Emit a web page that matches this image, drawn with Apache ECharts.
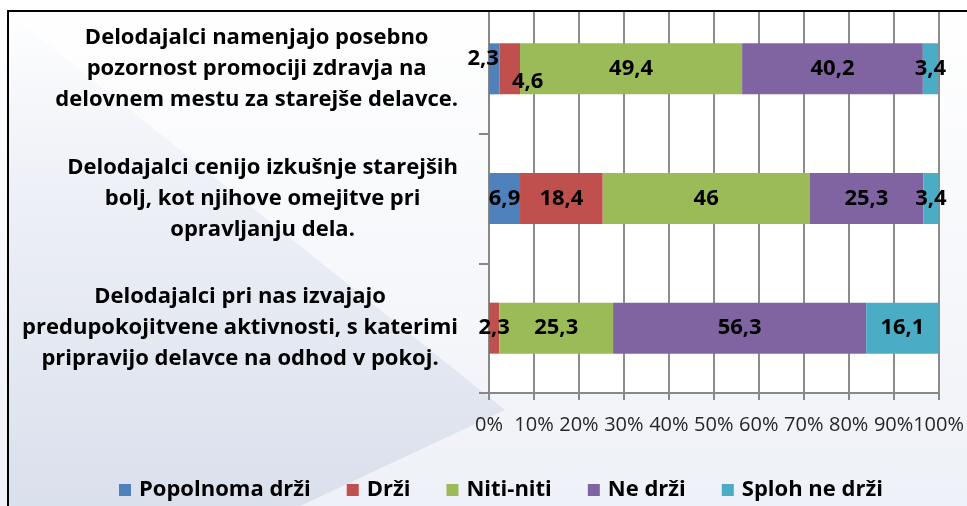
<!DOCTYPE html>
<html>
<head>
<meta charset="utf-8">
<script src="https://cdn.jsdelivr.net/npm/echarts@6/dist/echarts.min.js"></script>
<style>
  html, body { margin: 0; padding: 0; background: #ffffff; }
  #chart { width: 967px; height: 506px; }
</style>
</head>
<body>
<div id="chart"></div>
<script>
// ---- data ----
const categories = [
  'Delodajalci namenjajo posebno\npozornost promociji zdravja na\ndelovnem mestu za starejše delavce.',
  'Delodajalci cenijo izkušnje starejših\nbolj, kot njihove omejitve pri\nopravljanju dela.',
  'Delodajalci pri nas izvajajo\npredupokojitvene aktivnosti, s katerimi\npripravijo delavce na odhod v pokoj.'
];
const seriesNames = ['Popolnoma drži', 'Drži', 'Niti-niti', 'Ne drži', 'Sploh ne drži'];
const popolnomaDrzi = [2.3, 6.9, 0];
const drzi = [4.6, 18.4, 2.3];
const nitiNiti = [49.4, 46, 25.3];
const neDrzi = [40.2, 25.3, 56.3];
const splohNeDrzi = [3.4, 3.4, 16.1];
const xTicks = [0, 10, 20, 30, 40, 50, 60, 70, 80, 90, 100];

// ---- styling ----
const colors = ['#4f81bd', '#c0504d', '#9bbb59', '#8064a2', '#4bacc6'];
const FONT = '"Open Sans", "Noto Sans", sans-serif';
const allValues = [popolnomaDrzi, drzi, nitiNiti, neDrzi, splohNeDrzi];
// manual label nudges for the crowded small segments (series index, category index)
const labelNudges = { '0-0': [-11, -10], '1-0': [18, 13] };

const chart = echarts.init(document.getElementById('chart'), null, { renderer: 'canvas' });

const series = allValues.map((vals, si) => ({
  name: seriesNames[si],
  type: 'bar',
  stack: 'total',
  barWidth: 51,
  itemStyle: { color: colors[si] },
  label: {
    show: true,
    position: 'inside',
    color: '#000',
    fontFamily: FONT,
    fontWeight: 'bold',
    fontSize: 22,
    formatter: p => (p.value ? String(p.value).replace('.', ',') : '')
  },
  data: vals.map((v, ci) => {
    const n = labelNudges[si + '-' + ci];
    return n ? { value: v, label: { offset: n } } : v;
  })
}));

const option = {
  animation: false,
  color: colors,
  graphic: [
    { type: 'rect', z: -20, silent: true, shape: { x: 0, y: 0, width: 967, height: 506 },
      style: { fill: new echarts.graphic.LinearGradient(0, 0, 0, 1, [
        { offset: 0, color: '#ffffff' }, { offset: 1, color: '#eef1f7' }]) } },
    { type: 'polygon', z: -19, silent: true,
      shape: { points: [[8, 12], [505, 410], [300, 506], [8, 506]] },
      style: { fill: new echarts.graphic.LinearGradient(0, 0, 0, 1, [
        { offset: 0, color: 'rgba(228,232,242,0)' }, { offset: 0.4, color: 'rgba(228,232,242,0.6)' }, { offset: 1, color: '#dae0ec' }]) } },
    { type: 'rect', z: 50, silent: true, shape: { x: 0, y: 0, width: 967, height: 11 }, style: { fill: '#ffffff' } },
    { type: 'line', z: 51, silent: true, shape: { x1: 8, y1: 11, x2: 967, y2: 11 }, style: { stroke: '#000', lineWidth: 2 } },
    { type: 'line', z: 51, silent: true, shape: { x1: 8, y1: 10, x2: 8, y2: 506 }, style: { stroke: '#000', lineWidth: 2 } }
  ],
  grid: {
    left: 489, right: 26, top: 4, bottom: 113,
    show: true, backgroundColor: '#ffffff', borderWidth: 0
  },
  legend: {
    data: seriesNames,
    left: 114,
    top: 474,
    icon: 'rect',
    itemWidth: 12,
    itemHeight: 12,
    itemGap: 36,
    textStyle: { fontFamily: FONT, fontWeight: 'bold', fontSize: 22, color: '#000', padding: [0, 0, 0, 3] }
  },
  xAxis: {
    type: 'value',
    min: 0,
    max: 100,
    interval: 10,
    axisLine: { show: true, lineStyle: { color: '#888888', width: 2 } },
    axisTick: { show: true, length: 7, lineStyle: { color: '#888888', width: 2 } },
    splitLine: { show: true, lineStyle: { color: '#8c8c8c', width: 2 } },
    axisLabel: {
      margin: 22,
      fontFamily: FONT,
      fontSize: 20,
      color: '#262626',
      formatter: v => (xTicks.indexOf(v) >= 0 ? v + '%' : '')
    }
  },
  yAxis: {
    type: 'category',
    data: categories,
    inverse: true,
    axisLine: { show: true, lineStyle: { color: '#888888', width: 2 } },
    axisTick: { show: true, length: 10, inside: false, lineStyle: { color: '#888888', width: 2 } },
    axisLabel: {
      margin: 31,
      align: 'right',
      formatter: v => v.split('\n').map(l => '{c|' + l + '}').join('\n'),
      rich: {
        c: { align: 'center', fontFamily: FONT, fontWeight: 'bold', fontSize: 22, lineHeight: 31, color: '#000' }
      }
    }
  },
  series: series
};

chart.setOption(option);
</script>
</body>
</html>
